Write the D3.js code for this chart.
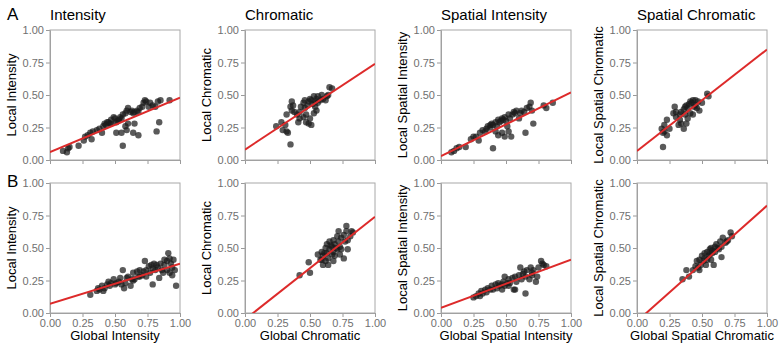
<!DOCTYPE html>
<html>
<head>
<meta charset="utf-8">
<script src="https://cdn.jsdelivr.net/npm/d3@7"></script>
<style>
  body { margin: 0; background: white; }
  svg { font-family: "Liberation Sans", Arial, sans-serif; }
</style>
</head>
<body>
<div id="grid"></div>
<script>
// Panel titles and axis labels
const titles = ["Intensity", "Chromatic", "Spatial Intensity", "Spatial Chromatic"];
const xLabels = ["Global Intensity", "Global Chromatic", "Global Spatial Intensity", "Global Spatial Chromatic"];
const yLabels = ["Local Intensity", "Local Chromatic", "Local Spatial Intensity", "Local Spatial Chromatic"];
const rowLetters = ["A", "B"];
const tickValues = [0, 0.25, 0.5, 0.75, 1];

// Fitted lines: [intercept, slope], row A then row B
const fitA = [[0.06, 0.42], [0.08, 0.66], [0.03, 0.49], [0.07, 0.78]];
const fitB = [[0.07, 0.31], [-0.05, 0.79], [0.04, 0.37], [-0.064, 0.89]];

// Row A points, [global, local]
const intensityA = [
  [0.10,0.07],[0.13,0.06],[0.14,0.09],[0.15,0.10],[0.22,0.11],[0.26,0.15],[0.27,0.18],[0.29,0.19],
  [0.31,0.21],[0.33,0.22],[0.32,0.16],[0.36,0.23],[0.38,0.24],[0.40,0.21],[0.41,0.26],[0.42,0.28],
  [0.44,0.29],[0.45,0.29],[0.46,0.28],[0.47,0.31],[0.49,0.33],[0.50,0.32],[0.51,0.29],[0.53,0.31],
  [0.54,0.33],[0.55,0.32],[0.56,0.35],[0.58,0.36],[0.59,0.38],[0.60,0.40],[0.62,0.37],[0.63,0.38],
  [0.64,0.36],[0.65,0.37],[0.67,0.38],[0.68,0.37],[0.69,0.40],[0.71,0.41],[0.72,0.44],[0.73,0.46],
  [0.74,0.45],[0.76,0.41],[0.77,0.44],[0.79,0.42],[0.81,0.41],[0.83,0.45],[0.85,0.46],[0.92,0.46],
  [0.51,0.21],[0.55,0.21],[0.56,0.11],[0.58,0.26],[0.59,0.23],[0.60,0.28],[0.64,0.21],[0.65,0.28],
  [0.68,0.19],[0.82,0.22],[0.84,0.29],[0.47,0.28],[0.52,0.30],[0.43,0.27]
];
const chromaticA = [
  [0.24,0.26],[0.28,0.29],[0.29,0.23],[0.31,0.27],[0.32,0.35],[0.32,0.22],[0.33,0.21],[0.35,0.12],
  [0.35,0.41],[0.36,0.45],[0.37,0.42],[0.36,0.38],[0.38,0.37],[0.40,0.35],[0.41,0.29],[0.42,0.37],
  [0.43,0.41],[0.45,0.44],[0.46,0.46],[0.46,0.40],[0.47,0.29],[0.49,0.28],[0.49,0.45],[0.50,0.47],
  [0.50,0.32],[0.51,0.27],[0.51,0.46],[0.53,0.49],[0.53,0.36],[0.54,0.45],[0.54,0.41],[0.55,0.47],
  [0.55,0.38],[0.56,0.49],[0.56,0.44],[0.58,0.46],[0.59,0.50],[0.60,0.47],[0.62,0.46],[0.63,0.49],
  [0.64,0.50],[0.65,0.56],[0.67,0.55],[0.45,0.33],[0.47,0.35],[0.42,0.32],[0.52,0.43],[0.48,0.42]
];
const spatialIntensityA = [
  [0.08,0.06],[0.10,0.07],[0.12,0.09],[0.14,0.10],[0.19,0.10],[0.23,0.16],[0.25,0.18],[0.27,0.18],
  [0.29,0.15],[0.30,0.21],[0.32,0.23],[0.34,0.22],[0.35,0.24],[0.36,0.26],[0.38,0.27],[0.39,0.28],
  [0.40,0.27],[0.42,0.29],[0.43,0.26],[0.44,0.19],[0.44,0.31],[0.45,0.29],[0.47,0.32],[0.47,0.21],
  [0.48,0.31],[0.49,0.18],[0.49,0.33],[0.51,0.26],[0.52,0.35],[0.53,0.32],[0.54,0.18],[0.55,0.35],
  [0.56,0.37],[0.57,0.36],[0.58,0.38],[0.60,0.32],[0.61,0.36],[0.62,0.38],[0.64,0.37],[0.65,0.21],
  [0.66,0.40],[0.68,0.41],[0.69,0.44],[0.70,0.38],[0.71,0.28],[0.79,0.42],[0.81,0.40],[0.86,0.44],
  [0.40,0.09],[0.42,0.22],[0.52,0.22],[0.46,0.30],[0.50,0.30],[0.38,0.25]
];
const spatialChromaticA = [
  [0.19,0.24],[0.20,0.10],[0.20,0.21],[0.21,0.27],[0.21,0.22],[0.23,0.19],[0.23,0.31],[0.25,0.24],
  [0.28,0.36],[0.29,0.41],[0.30,0.37],[0.30,0.33],[0.32,0.27],[0.33,0.35],[0.34,0.37],[0.34,0.28],
  [0.36,0.24],[0.36,0.39],[0.37,0.41],[0.37,0.35],[0.38,0.42],[0.39,0.40],[0.39,0.32],[0.41,0.45],
  [0.41,0.36],[0.42,0.44],[0.43,0.46],[0.43,0.35],[0.45,0.42],[0.45,0.46],[0.46,0.40],[0.47,0.45],
  [0.48,0.38],[0.50,0.44],[0.54,0.51],[0.55,0.49],[0.38,0.28],[0.33,0.31],[0.40,0.43],[0.44,0.41]
];

// Row B points, [global, local]
const intensityB = [
  [0.31,0.14],[0.36,0.17],[0.37,0.19],[0.38,0.18],[0.40,0.21],[0.41,0.17],[0.42,0.19],[0.44,0.22],
  [0.45,0.24],[0.46,0.21],[0.47,0.23],[0.49,0.26],[0.50,0.22],[0.51,0.23],[0.53,0.24],[0.54,0.27],
  [0.55,0.22],[0.56,0.33],[0.57,0.19],[0.58,0.23],[0.59,0.27],[0.60,0.28],[0.62,0.21],[0.63,0.26],
  [0.64,0.31],[0.65,0.26],[0.67,0.32],[0.68,0.28],[0.69,0.33],[0.71,0.29],[0.72,0.32],[0.73,0.40],
  [0.74,0.33],[0.76,0.36],[0.77,0.31],[0.78,0.37],[0.79,0.22],[0.80,0.38],[0.81,0.33],[0.82,0.37],
  [0.83,0.35],[0.84,0.27],[0.85,0.38],[0.86,0.33],[0.87,0.31],[0.88,0.41],[0.88,0.37],[0.90,0.33],
  [0.91,0.46],[0.92,0.31],[0.92,0.42],[0.94,0.35],[0.94,0.29],[0.95,0.41],[0.96,0.33],[0.97,0.21],
  [0.64,0.25],[0.69,0.28],[0.74,0.28],[0.90,0.40],[0.93,0.38],[0.79,0.34]
];
const chromaticB = [
  [0.42,0.29],[0.49,0.39],[0.50,0.31],[0.56,0.45],[0.58,0.41],[0.59,0.47],[0.60,0.44],[0.60,0.37],
  [0.62,0.50],[0.62,0.40],[0.63,0.46],[0.63,0.53],[0.64,0.42],[0.65,0.49],[0.65,0.55],[0.67,0.45],
  [0.67,0.51],[0.68,0.47],[0.68,0.56],[0.69,0.53],[0.69,0.44],[0.71,0.59],[0.71,0.49],[0.72,0.55],
  [0.72,0.63],[0.73,0.51],[0.74,0.58],[0.74,0.49],[0.76,0.60],[0.76,0.42],[0.77,0.55],[0.78,0.67],
  [0.78,0.63],[0.79,0.49],[0.81,0.59],[0.82,0.63],[0.83,0.62],[0.59,0.41],[0.64,0.37],[0.68,0.40],
  [0.73,0.45],[0.79,0.56],[0.66,0.52],[0.70,0.50],[0.61,0.46]
];
const spatialIntensityB = [
  [0.25,0.12],[0.27,0.13],[0.29,0.15],[0.30,0.13],[0.31,0.17],[0.32,0.15],[0.34,0.18],[0.35,0.16],
  [0.36,0.19],[0.38,0.18],[0.39,0.21],[0.40,0.18],[0.42,0.22],[0.43,0.19],[0.44,0.23],[0.45,0.21],
  [0.47,0.22],[0.48,0.24],[0.49,0.28],[0.49,0.21],[0.51,0.23],[0.52,0.26],[0.53,0.23],[0.55,0.27],
  [0.56,0.18],[0.57,0.28],[0.58,0.24],[0.60,0.29],[0.61,0.35],[0.62,0.26],[0.64,0.32],[0.65,0.15],
  [0.65,0.28],[0.66,0.33],[0.68,0.26],[0.69,0.35],[0.70,0.29],[0.71,0.33],[0.73,0.24],[0.74,0.28],
  [0.75,0.35],[0.77,0.40],[0.78,0.38],[0.79,0.37],[0.81,0.36],[0.57,0.18],[0.52,0.21],[0.47,0.18],
  [0.63,0.30],[0.70,0.31]
];
const spatialChromaticB = [
  [0.35,0.26],[0.38,0.33],[0.40,0.28],[0.43,0.33],[0.45,0.36],[0.46,0.40],[0.47,0.35],[0.48,0.41],
  [0.49,0.37],[0.50,0.44],[0.51,0.40],[0.52,0.46],[0.52,0.42],[0.53,0.37],[0.54,0.47],[0.55,0.44],
  [0.56,0.49],[0.56,0.45],[0.57,0.50],[0.58,0.46],[0.59,0.37],[0.60,0.51],[0.60,0.47],[0.61,0.53],
  [0.63,0.49],[0.64,0.55],[0.65,0.51],[0.65,0.43],[0.66,0.58],[0.68,0.54],[0.69,0.55],[0.70,0.56],
  [0.72,0.62],[0.73,0.59],[0.48,0.33],[0.54,0.41],[0.57,0.41],[0.62,0.50],[0.58,0.48]
];

const rowsData = [
  [intensityA, chromaticA, spatialIntensityA, spatialChromaticA],
  [intensityB, chromaticB, spatialIntensityB, spatialChromaticB]
];
const rowsFit = [fitA, fitB];

// Layout of the grid
const W = 780, H = 348;
const panelLeft = [50, 245, 441, 637];
const panelTop = [30, 183];
const size = 130;

const svg = d3.select("#grid")
  .append("svg")
  .attr("width", W)
  .attr("height", H);

const x = d3.scaleLinear().domain([0, 1]).range([0, size]);
const y = d3.scaleLinear().domain([0, 1]).range([size, 0]);

rowsData.forEach(function(row, r) {

  // Row letter
  svg.append("text")
    .attr("x", 7)
    .attr("y", panelTop[r] - (r == 0 ? 10 : -4))
    .style("font-size", "17px")
    .text(rowLetters[r]);

  row.forEach(function(points, c) {
    const g = svg.append("g")
      .attr("transform", `translate(${panelLeft[c]}, ${panelTop[r]})`);

    const clipId = "clip-" + r + "-" + c;
    g.append("clipPath").attr("id", clipId)
      .append("rect").attr("width", size).attr("height", size);

    // Y axis
    const yAxis = g.append("g")
      .call(d3.axisLeft(y).tickValues(tickValues).tickFormat(d3.format(".2f")).tickSizeOuter(0).tickSize(4));
    yAxis.selectAll("text").style("font-size", "11px").attr("fill", "#707070").attr("x", -6);

    // X axis (labels only on bottom row)
    const xAxis = g.append("g")
      .attr("transform", `translate(0, ${size})`)
      .call(d3.axisBottom(x).tickValues(tickValues).tickFormat(d3.format(".2f")).tickSizeOuter(0).tickSize(4));
    xAxis.selectAll("text").style("font-size", "11px").attr("fill", "#707070").attr("y", 6);
    if (r == 0) xAxis.selectAll("text").remove();

    g.selectAll(".domain").attr("stroke", "#9a9a9a");
    g.selectAll(".tick line").attr("stroke", "#9a9a9a");

    // Panel frame
    g.append("rect")
      .attr("width", size)
      .attr("height", size)
      .attr("fill", "none")
      .attr("stroke", "#a8a8a8")
      .attr("stroke-width", 1);

    // Points
    g.append("g")
      .attr("clip-path", `url(#${clipId})`)
      .selectAll("circle")
      .data(points)
      .join("circle")
        .attr("cx", d => x(d[0]))
        .attr("cy", d => y(d[1]))
        .attr("r", 3.2)
        .attr("fill", "#1a1a1a")
        .attr("opacity", 0.72);

    // Regression line
    const fit = rowsFit[r][c];
    g.append("line")
      .attr("clip-path", `url(#${clipId})`)
      .attr("x1", x(0))
      .attr("y1", y(fit[0]))
      .attr("x2", x(1))
      .attr("y2", y(fit[0] + fit[1]))
      .attr("stroke", "#dd2a2a")
      .attr("stroke-width", 2);

    // Title
    if (r == 0) {
      g.append("text")
        .attr("x", 0)
        .attr("y", -10)
        .style("font-size", "15px")
        .text(titles[c]);
    }

    // Y axis label
    g.append("text")
      .attr("transform", "rotate(-90)")
      .attr("x", -size / 2)
      .attr("y", -34)
      .attr("text-anchor", "middle")
      .style("font-size", "13px")
      .text(yLabels[c]);

    // X axis label
    if (r == 1) {
      g.append("text")
        .attr("x", size / 2)
        .attr("y", size + 27)
        .attr("text-anchor", "middle")
        .style("font-size", "13px")
        .text(xLabels[c]);
    }
  });
});
</script>
</body>
</html>
